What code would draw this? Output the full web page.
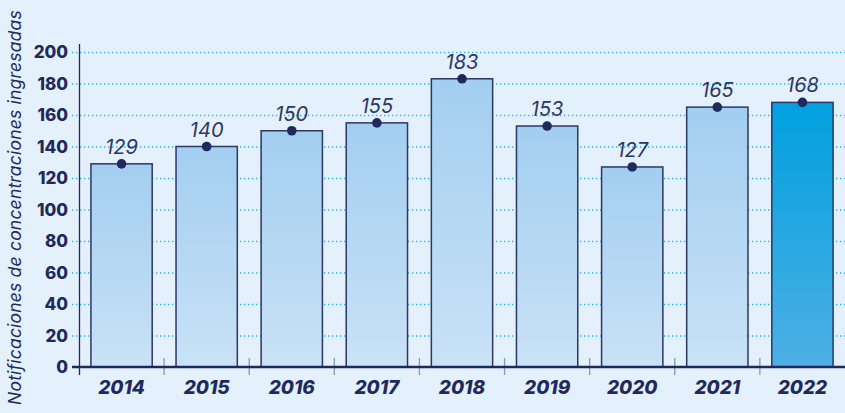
<!DOCTYPE html>
<html>
<head>
<meta charset="utf-8">
<script src="https://cdn.jsdelivr.net/npm/d3@7"></script>
<style>
  html, body { margin: 0; padding: 0; background: #e4f0fb; }
  svg { display: block; font-family: "Inter", "Roboto", sans-serif; }
</style>
</head>
<body>
<div id="chart"></div>
<script>
// data
const years = ["2014", "2015", "2016", "2017", "2018", "2019", "2020", "2021", "2022"];
const notificaciones = [129, 140, 150, 155, 183, 153, 127, 165, 168];
const yTicks = [0, 20, 40, 60, 80, 100, 120, 140, 160, 180, 200];
const highlightYear = "2022";
const titleY = "Notificaciones de concentraciones ingresadas";

main();

function main () {
  const width = 845,
    height = 413;
  const margin = { top: 52, right: 0, bottom: 46, left: 79 };

  const svg = d3
    .select("#chart")
    .append("svg")
    .attr("width", width)
    .attr("height", height);

  svg.append("rect").attr("width", width).attr("height", height).attr("fill", "#e4f0fb");

  // gradients
  const defs = svg.append("defs");
  const gLight = defs.append("linearGradient").attr("id", "barLight")
    .attr("x1", 0).attr("y1", 0).attr("x2", 0).attr("y2", 1);
  gLight.append("stop").attr("offset", "0%").attr("stop-color", "#a3cef0");
  gLight.append("stop").attr("offset", "100%").attr("stop-color", "#c9e2f6");
  const gDark = defs.append("linearGradient").attr("id", "barDark")
    .attr("x1", 0).attr("y1", 0).attr("x2", 0).attr("y2", 1);
  gDark.append("stop").attr("offset", "0%").attr("stop-color", "#00a0df");
  gDark.append("stop").attr("offset", "100%").attr("stop-color", "#4db0e4");

  // scales
  const scaleX = d3
    .scaleBand()
    .domain(years)
    .range([margin.left, width - margin.right])
    .paddingInner(0.28)
    .paddingOuter(0.14);
  const scaleY = d3
    .scaleLinear()
    .domain([0, 200])
    .range([height - margin.bottom, margin.top]);

  const step = scaleX.step();
  const bandStart = (d) => scaleX(d) - scaleX.paddingOuter() * step;

  // grid lines
  svg.append("g")
    .selectAll("line")
    .data(yTicks.filter((d) => d > 0))
    .join("line")
    .attr("x1", margin.left - 7)
    .attr("x2", width)
    .attr("y1", (d) => scaleY(d) + 0.5)
    .attr("y2", (d) => scaleY(d) + 0.5)
    .attr("stroke", "#2cb3e8")
    .attr("stroke-width", 1.3)
    .attr("stroke-dasharray", "1.3 2.7");

  // y axis labels
  svg.append("g")
    .selectAll("text")
    .data(yTicks)
    .join("text")
    .attr("x", margin.left - 11)
    .attr("y", (d) => scaleY(d))
    .attr("dy", "0.36em")
    .attr("text-anchor", "end")
    .attr("font-size", "17px")
    .attr("font-weight", 800)
    .attr("fill", "#1f2a5a")
    .text((d) => d);

  // y axis title
  svg.append("text")
    .attr("transform", `translate(21, ${height / 2 + 1}) rotate(-90)`)
    .attr("text-anchor", "middle")
    .attr("font-size", "17.5px")
    .attr("font-style", "italic")
    .attr("letter-spacing", "0.2px")
    .attr("fill", "#1f2a5a")
    .text(titleY);

  // category separators
  svg.append("g")
    .selectAll("line")
    .data(years.slice(1))
    .join("line")
    .attr("x1", (d) => bandStart(d))
    .attr("x2", (d) => bandStart(d))
    .attr("y1", scaleY(0) - 9)
    .attr("y2", scaleY(0) + 8)
    .attr("stroke", "#7e9cba")
    .attr("stroke-width", 1.3);

  // bars
  svg.append("g")
    .selectAll("rect")
    .data(years)
    .join("rect")
    .attr("x", (d) => scaleX(d))
    .attr("y", (d, i) => scaleY(notificaciones[i]))
    .attr("width", scaleX.bandwidth())
    .attr("height", (d, i) => scaleY(0) - scaleY(notificaciones[i]))
    .attr("fill", (d) => (d === highlightYear ? "url(#barDark)" : "url(#barLight)"))
    .attr("stroke", "#2b3765")
    .attr("stroke-width", 1.5);

  // axes lines
  svg.append("line")
    .attr("x1", margin.left + 0.5).attr("x2", margin.left + 0.5)
    .attr("y1", margin.top - 8).attr("y2", scaleY(0) + 8)
    .attr("stroke", "#1f2a5a").attr("stroke-width", 1.3);
  svg.append("line")
    .attr("x1", margin.left - 7).attr("x2", width)
    .attr("y1", scaleY(0)).attr("y2", scaleY(0))
    .attr("stroke", "#1f2a5a").attr("stroke-width", 2.5);

  // dots
  svg.append("g")
    .selectAll("circle")
    .data(years)
    .join("circle")
    .attr("cx", (d) => scaleX(d) + scaleX.bandwidth() / 2)
    .attr("cy", (d, i) => scaleY(notificaciones[i]))
    .attr("r", 4.8)
    .attr("fill", "#1f2a5a");

  // value labels
  svg.append("g")
    .selectAll("text")
    .data(years)
    .join("text")
    .attr("x", (d) => scaleX(d) + scaleX.bandwidth() / 2)
    .attr("y", (d, i) => scaleY(notificaciones[i]) - 10)
    .attr("text-anchor", "middle")
    .attr("font-size", "20px")
    .attr("font-style", "italic")
    .attr("fill", "#2b3765")
    .text((d, i) => notificaciones[i]);

  // x labels
  svg.append("g")
    .selectAll("text")
    .data(years)
    .join("text")
    .attr("x", (d) => scaleX(d) + scaleX.bandwidth() / 2)
    .attr("y", scaleY(0) + 27)
    .attr("text-anchor", "middle")
    .attr("font-size", "19px")
    .attr("font-weight", 800)
    .attr("font-style", "italic")
    .attr("fill", "#1f2a5a")
    .text((d) => d);
}
</script>
</body>
</html>
